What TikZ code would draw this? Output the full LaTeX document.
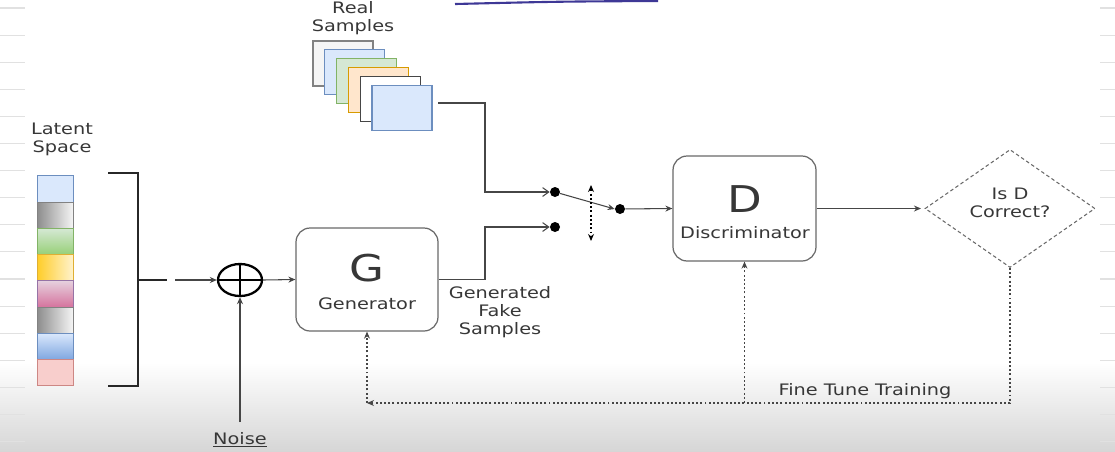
\documentclass[tikz,border=0pt]{standalone}
\usepackage{fontspec}
\setmainfont[FakeStretch=1.22]{DejaVu Sans}
\usepackage{tikz}
\usetikzlibrary{positioning, arrows.meta, shapes.geometric, calc}
\definecolor{LineGrey}{RGB}{70,70,70}
\definecolor{BoxGrey}{RGB}{105,105,105}
\definecolor{TextGrey}{RGB}{55,55,55}
\definecolor{PaperLine}{RGB}{225,225,225}
\definecolor{PenBlue}{RGB}{62,56,150}
\definecolor{FillBlue}{RGB}{218,232,252}
\definecolor{EdgeBlue}{RGB}{108,142,191}
\definecolor{DeepCellBlue}{RGB}{126,166,224}
\definecolor{FillGreen}{RGB}{213,232,212}
\definecolor{EdgeGreen}{RGB}{130,179,102}
\definecolor{DeepGreen}{RGB}{151,208,119}
\definecolor{FillOrange}{RGB}{255,230,204}
\definecolor{EdgeOrange}{RGB}{215,155,0}
\definecolor{FillYellow}{RGB}{255,242,204}
\definecolor{DeepYellow}{RGB}{255,205,40}
\definecolor{FillPink}{RGB}{230,208,222}
\definecolor{DeepPink}{RGB}{213,115,157}
\definecolor{EdgePink}{RGB}{150,115,166}
\definecolor{FillRed}{RGB}{248,206,204}
\definecolor{EdgeRed}{RGB}{184,84,80}
\definecolor{FillLight}{RGB}{245,245,245}
\definecolor{EdgeLight}{RGB}{130,130,130}
\tikzset{
  lab/.style={font=\fontsize{9}{10.2}\selectfont, text=TextGrey, align=center, inner sep=0pt},
  biglet/.style={font=\fontsize{21}{21}\selectfont, text=TextGrey, inner sep=0pt},
  netbox/.style={draw=BoxGrey, line width=0.7pt, rounded corners=8pt,
    minimum width=2.84cm, minimum height=2.06cm},
  lcell/.style={draw=#1, line width=0.5pt, minimum width=0.72cm, minimum height=0.525cm,
    inner sep=0pt, outer sep=0pt},
  sample/.style={minimum width=1.2cm, minimum height=0.9cm, inner sep=0pt, line width=0.6pt},
  swdot/.style={circle, fill=black, minimum size=0.2cm, inner sep=0pt},
  conn/.style={draw=LineGrey, line width=0.6pt},
  feed/.style={draw=LineGrey, line width=0.6pt, dash pattern=on 1.1pt off 1.3pt},
  tip/.style={-{Stealth[length=4pt, width=3.4pt]}},
  barb/.style={-{Straight Barb[length=3.5pt, width=5pt]}},
}

\begin{document}
\begin{tikzpicture}[x=0.02cm, y=-0.02cm, >=Stealth]
  \useasboundingbox (0,0) rectangle (1115,451);
  \shade[top color=white, bottom color=black!16] (0,362) rectangle (1115,451);
  \foreach \k in {0,...,16} {
    \draw[PaperLine, line width=0.6pt] (0,{8+27.1*\k}) -- (25,{8+27.1*\k});
    \draw[PaperLine, line width=0.6pt] (1100,{8+27.1*\k}) -- (1115,{8+27.1*\k});
  }
  \draw[PenBlue, line width=1.2pt] (455,4) .. controls (560,1.5) .. (658,1);

  % latent space
  \node[lab] (latent) at (62,139) {Latent\\Space};
  \node[lcell=EdgeBlue, fill=FillBlue] (z1) at (55,189) {};
  \node[lcell=EdgeLight, left color=black!45, right color=black!4, below=0pt of z1] (z2) {};
  \node[lcell=EdgeGreen, top color=FillGreen, bottom color=DeepGreen, below=0pt of z2] (z3) {};
  \node[lcell=EdgeOrange!80, left color=DeepYellow, right color=FillYellow, below=0pt of z3] (z4) {};
  \node[lcell=EdgePink, top color=FillPink, bottom color=DeepPink, below=0pt of z4] (z5) {};
  \node[lcell=EdgeLight, left color=black!45, right color=black!4, below=0pt of z5] (z6) {};
  \node[lcell=EdgeBlue, top color=FillBlue, bottom color=DeepCellBlue, below=0pt of z6] (z7) {};
  \node[lcell=EdgeRed!70, fill=FillRed, below=0pt of z7] (z8) {};
  \draw[TextGrey!70!black, line width=1.1pt] (108,173) -- (138,173) -- (138,386) -- (108,386)
    (138,280) -- (167,280);
  \coordinate (zout) at (175,280);

  % noise and sum
  \node[ellipse, draw=black, line width=1.3pt, minimum width=0.88cm, minimum height=0.64cm,
    inner sep=0pt] (sum) at (240,280) {};
  \draw[line width=1.3pt] (sum.north) -- (sum.south) (sum.west) -- (sum.east);
  \node[lab] (noise) at (240,440) {\underline{Noise}};
  \coordinate (noiseout) at (240,422);
  \draw[conn, tip] (zout) -- (sum.west);
  \draw[conn, tip] (noiseout) -- (sum.south);

  % generator
  \node[netbox] (G) at (367,279.5) {};
  \node[biglet] at (367,268) {G};
  \node[lab] at (367,304) {Generator};
  \draw[conn, tip] (sum.east) -- (G.west);
  \node[lab] (fake) at (500,312) {Generated\\Fake\\Samples};

  % real samples
  \node[lab] (real) at (353,18) {Real\\Samples};
  \foreach \f/\e [count=\k from 0] in {FillLight/EdgeLight, FillBlue/EdgeBlue, FillGreen/EdgeGreen,
      FillOrange/EdgeOrange, white/LineGrey, FillBlue/EdgeBlue}
    \node[sample, fill=\f, draw=\e] (s\k) at ({343+11.8*\k},{63.5+8.9*\k}) {};
  \coordinate (realout) at (438,103);

  % switch
  \coordinate (bend) at (485,150);
  \node[swdot] (swA) at (555,192) {};
  \node[swdot] (swB) at (555,227) {};
  \node[swdot] (swC) at (620,209) {};
  \coordinate (swtop) at (591,185);
  \coordinate (swbot) at (591,241);
  \draw[conn, barb] (realout) -- (realout -| bend) |- (swA.west);
  \draw[conn, barb] (G.east) -- (G.east -| bend) |- (swB.west);
  \draw[conn, tip] (swA) -- (swC.west);
  \draw[line width=0.6pt, dash pattern=on 1.1pt off 1.3pt,
    {Stealth[length=4pt, width=3.4pt]}-{Stealth[length=4pt, width=3.4pt]}] (swtop) -- (swbot);

  % discriminator
  \node[netbox, minimum width=2.86cm, minimum height=2.1cm] (D) at (744.5,208.5) {};
  \node[biglet] at (745,199) {D};
  \node[lab] at (745,233) {Discriminator};
  \draw[conn, tip] (swC) -- (D.west);

  \node[diamond, draw=BoxGrey, dash pattern=on 2pt off 1.5pt, line width=0.6pt, minimum width=3.4cm,
    minimum height=2.36cm, inner sep=0pt] (check) at (1010,208.5) {};
  \node[lab] at (1010,203) {Is D\\Correct?};
  \draw[conn, tip, shorten >=2pt] (D.east) -- (check.west);

  % fine tune feedback
  \coordinate (fbL) at (367,403);
  \draw[feed, tip] (check.south) |- (fbL);
  \draw[feed, tip] (fbL) -- (G.south);
  \draw[feed, tip] (D.south |- fbL) -- (D.south);
  \node[lab] (tune) at (865,391) {Fine Tune Training};
\end{tikzpicture}
\end{document}
